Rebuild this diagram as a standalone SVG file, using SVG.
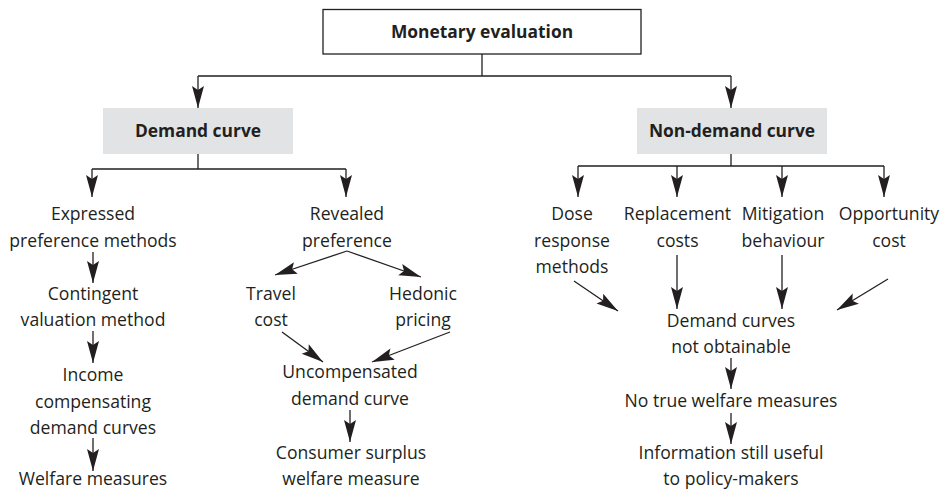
<svg xmlns="http://www.w3.org/2000/svg" width="949" height="490" viewBox="0 0 949 490">
<defs>
<style>
.t{font-family:"Open Sans","Noto Sans","Liberation Sans",sans-serif;font-size:17.6px;fill:#231f20;text-anchor:middle}
.b{font-family:"Open Sans","Noto Sans","Liberation Sans",sans-serif;font-size:17.4px;font-weight:bold;fill:#231f20;text-anchor:middle}
.c{fill:none;stroke:#231f20;stroke-width:1.3}
.a{fill:none;stroke:#231f20;stroke-width:1.3;marker-end:url(#ah)}
.box{fill:#ffffff;stroke:#231f20;stroke-width:1.3}
.grey{fill:#e2e3e4}
</style>
<marker id="ah" viewBox="-24 -7 25 14" refX="0" refY="0" markerWidth="25" markerHeight="14" markerUnits="userSpaceOnUse" orient="auto">
<path d="M0,0 L-22,-6 L-18,0 L-22,6 Z" fill="#231f20"/>
</marker>
</defs>

<g id="connectors">
<path class="c" d="M482,54 V76 M198,76 H731"/>
<path class="a" d="M198,76 V108"/>
<path class="a" d="M731,76 V108"/>
<path class="c" d="M198,154 V169 M92,169 H346"/>
<path class="a" d="M92,169 V197"/>
<path class="a" d="M346,169 V197"/>
<path class="c" d="M731,154 V166 M578,166 H884"/>
<path class="a" d="M578,166 V197"/>
<path class="a" d="M677,166 V197"/>
<path class="a" d="M782,166 V197"/>
<path class="a" d="M884,166 V197"/>
<path class="a" d="M93,252 V283"/>
<path class="a" d="M93,331 V363"/>
<path class="a" d="M93,438 V471"/>
<path class="a" d="M347,251 L275,275"/>
<path class="a" d="M347,251 L421,277"/>
<path class="a" d="M282,332 L323,362"/>
<path class="a" d="M450,332 L372,362"/>
<path class="a" d="M350,410 V442"/>
<path class="a" d="M574,281 L618,311"/>
<path class="a" d="M677,255 V309"/>
<path class="a" d="M782,255 V309"/>
<path class="a" d="M888,279 L837,310"/>
<path class="a" d="M731,358 V389"/>
<path class="a" d="M731,413 V444"/>
</g>

<g id="monetary-evaluation">
<rect class="box" x="323" y="9.5" width="318" height="44.5"/>
<text class="b" x="482" y="38">Monetary evaluation</text>
</g>
<g id="demand-curve">
<rect class="grey" x="103" y="108" width="190" height="46"/>
<text class="b" x="198" y="137">Demand curve</text>
</g>
<g id="non-demand-curve">
<rect class="grey" x="637" y="108" width="190" height="46"/>
<text class="b" x="732" y="137">Non-demand curve</text>
</g>

<g id="expressed-preference">
<text class="t" x="93" y="220">Expressed</text>
<text class="t" x="93" y="247">preference methods</text>
</g>
<g id="contingent-valuation">
<text class="t" x="93" y="300">Contingent</text>
<text class="t" x="93" y="326">valuation method</text>
</g>
<g id="income-compensating">
<text class="t" x="93" y="381">Income</text>
<text class="t" x="93" y="408">compensating</text>
<text class="t" x="93" y="434">demand curves</text>
</g>
<g id="welfare-measures">
<text class="t" x="93" y="485">Welfare measures</text>
</g>

<g id="revealed-preference">
<text class="t" x="347" y="220">Revealed</text>
<text class="t" x="347" y="247">preference</text>
</g>
<g id="travel-cost">
<text class="t" x="271" y="300">Travel</text>
<text class="t" x="271" y="326">cost</text>
</g>
<g id="hedonic-pricing">
<text class="t" x="423" y="300">Hedonic</text>
<text class="t" x="423" y="326">pricing</text>
</g>
<g id="uncompensated">
<text class="t" x="350" y="378">Uncompensated</text>
<text class="t" x="350" y="405">demand curve</text>
</g>
<g id="consumer-surplus">
<text class="t" x="351" y="459">Consumer surplus</text>
<text class="t" x="351" y="485">welfare measure</text>
</g>

<g id="dose-response">
<text class="t" x="572" y="220">Dose</text>
<text class="t" x="572" y="247">response</text>
<text class="t" x="572" y="273">methods</text>
</g>
<g id="replacement-costs">
<text class="t" x="677.5" y="220">Replacement</text>
<text class="t" x="677.5" y="247">costs</text>
</g>
<g id="mitigation-behaviour">
<text class="t" x="783" y="220">Mitigation</text>
<text class="t" x="783" y="247">behaviour</text>
</g>
<g id="opportunity-cost">
<text class="t" x="889" y="220">Opportunity</text>
<text class="t" x="889" y="247">cost</text>
</g>
<g id="not-obtainable">
<text class="t" x="731" y="327">Demand curves</text>
<text class="t" x="731" y="353">not obtainable</text>
</g>
<g id="no-true-welfare">
<text class="t" x="731" y="407">No true welfare measures</text>
</g>
<g id="information-useful">
<text class="t" x="731" y="459">Information still useful</text>
<text class="t" x="731" y="485">to policy-makers</text>
</g>
</svg>
